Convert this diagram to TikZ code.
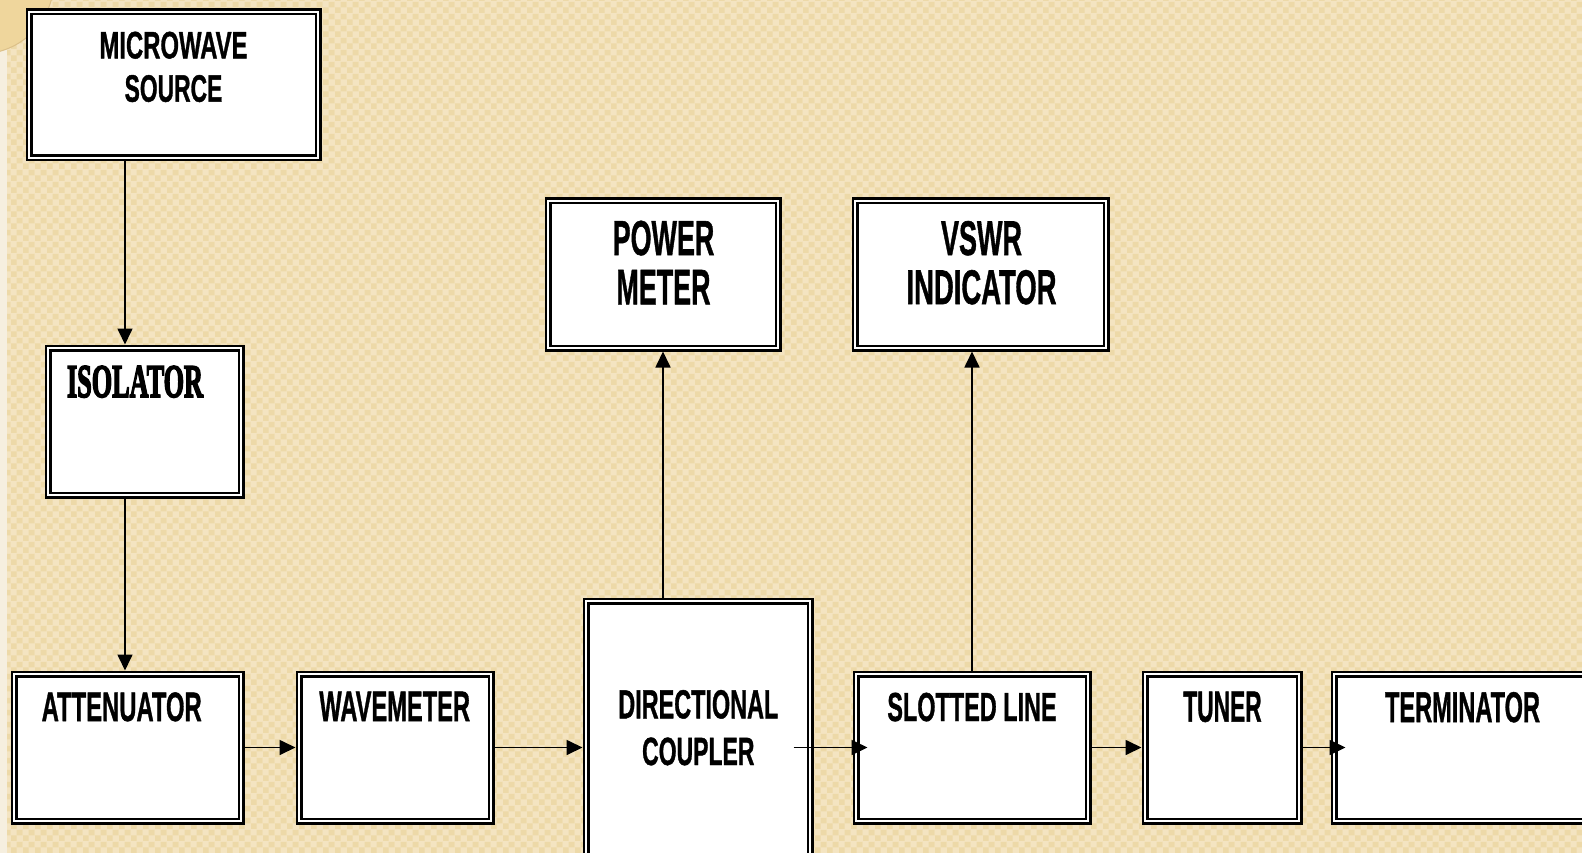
\documentclass[tikz,border=0pt]{standalone}
\usepackage{fontspec}
\usepackage{graphicx}
\setmainfont{Liberation Sans}
\newfontfamily\agencyfont[FakeBold=1.2]{Liberation Sans}
\newfontfamily\heavyserif[FakeBold=4]{Liberation Serif}
\usetikzlibrary{arrows.meta,calc,patterns}
\definecolor{bgA}{HTML}{F4E4C1}
\definecolor{bgB}{HTML}{EDD9A8}
\definecolor{lightstrip}{HTML}{F6EFDF}
\definecolor{arcfill}{HTML}{EFD69C}
\definecolor{arcline}{HTML}{DCC088}
\pgfdeclarepatterninherentlycolored{tanchecks}{\pgfpointorigin}{\pgfpoint{12pt}{12pt}}{\pgfpoint{12pt}{12pt}}{%
  \pgfsetfillcolor{bgA}\pgfpathrectangle{\pgfpointorigin}{\pgfpoint{12pt}{12pt}}\pgfusepath{fill}%
  \pgfsetfillcolor{bgB}\pgfpathrectangle{\pgfpointorigin}{\pgfpoint{6pt}{6pt}}\pgfusepath{fill}%
  \pgfpathrectangle{\pgfpoint{6pt}{6pt}}{\pgfpoint{6pt}{6pt}}\pgfusepath{fill}}
\newcommand{\ft}[3]{\resizebox{#1pt}{#2pt}{\agencyfont\bfseries #3}}
\begin{document}
\begin{tikzpicture}[x=1pt,y=-1pt,
  blk/.style={draw=black, line width=2.5pt, double=white, double distance=2pt, fill=white, inner sep=0pt, outer sep=3.5pt},
  lbl/.style={inner sep=0pt, outer sep=0pt, align=center, font=\fontsize{20}{#1}\selectfont},
  lbl/.default=43,
  arr/.style={draw=black, line width=1.7pt, -{Triangle[length=16pt,width=15pt]}}]
\useasboundingbox (0,0) rectangle (1582,853);
\clip (0,0) rectangle (1582,853);
\fill[bgA] (0,0) rectangle (1582,853);
\fill[pattern=tanchecks] (0,0) rectangle (1582,853);
\fill[lightstrip] (0,0) rectangle (7,853);
\filldraw[fill=arcfill, draw=arcline, line width=1pt] (-20,-20) circle (74);
% boxes
\node[blk, minimum width=289pt, minimum height=146pt] (ms) at (173.5,85) {};
\node[blk, minimum width=193pt, minimum height=147pt] (iso) at (144.5,421.5) {};
\node[blk, minimum width=230pt, minimum height=147pt] (pm) at (663,274.5) {};
\node[blk, minimum width=251pt, minimum height=147pt] (vswr) at (980.5,274.5) {};
\node[blk, minimum width=227pt, minimum height=147pt] (att) at (127.5,747.5) {};
\node[blk, minimum width=192pt, minimum height=147pt] (wav) at (395,747.5) {};
\node[blk, minimum width=224pt, minimum height=279pt] (dc) at (698,740.5) {};
\node[blk, minimum width=232pt, minimum height=147pt] (sl) at (972,747.5) {};
\node[blk, minimum width=154pt, minimum height=147pt] (tun) at (1222,747.5) {};
\node[blk, minimum width=286pt, minimum height=147pt] (term) at (1477,747.5) {};
% labels
\node[lbl=43.3, anchor=north] (mst) at (173.5,31.7) {\ft{148}{26.7}{MICROWAVE}\\\ft{97.7}{26.7}{SOURCE}};
\node[lbl, anchor=north west] (isot) at (67,366) {\resizebox{136pt}{31pt}{\heavyserif\bfseries ISOLATOR}};
\node[lbl=49.3, anchor=north] (pmt) at (663.5,220.7) {\ft{101.6}{34.3}{POWER}\\\ft{94}{34.3}{METER}};
\node[lbl=49, anchor=north] (vswrt) at (981.5,221) {\ft{81}{34}{VSWR}\\\ft{150}{34}{INDICATOR}};
\node[lbl=46.7, anchor=north] (dct) at (698.3,690) {\ft{160}{28.3}{DIRECTIONAL}\\\ft{112.3}{27.5}{COUPLER}};
\node[lbl, anchor=north] (attt) at (121.7,692.3) {\ft{160}{28.7}{ATTENUATOR}};
\node[lbl, anchor=north] (wavt) at (394.7,691.7) {\ft{150.7}{29.3}{WAVEMETER}};
\node[lbl, anchor=north] (slt) at (972,692.7) {\ft{169.3}{28.3}{SLOTTED LINE}};
\node[lbl, anchor=north] (tunt) at (1222.5,691.7) {\ft{78.3}{30}{TUNER}};
\node[lbl, anchor=north] (termt) at (1462.5,692) {\ft{155}{30}{TERMINATOR}};
% connectors
\coordinate (colx) at (125,0);
\draw[arr] (ms.south -| colx) -- (iso.north -| colx);
\draw[arr] (iso.south -| colx) -- (att.north -| colx);
\draw[arr] (att.east) -- (wav.west);
\draw[arr] (wav.east) -- (wav.east -| dc.west);
\draw[arr] ($(dc.east |- sl.west)+(-20,0)$) -- ($(sl.west)+(15,0)$);
\draw[arr] (sl.east) -- (tun.west);
\draw[arr] (tun.east) -- ($(term.west)+(15,0)$);
\draw[arr] (dc.north -| pm.south) -- (pm.south);
\draw[arr] (sl.north) -- (sl.north |- vswr.south);
\end{tikzpicture}
\end{document}
